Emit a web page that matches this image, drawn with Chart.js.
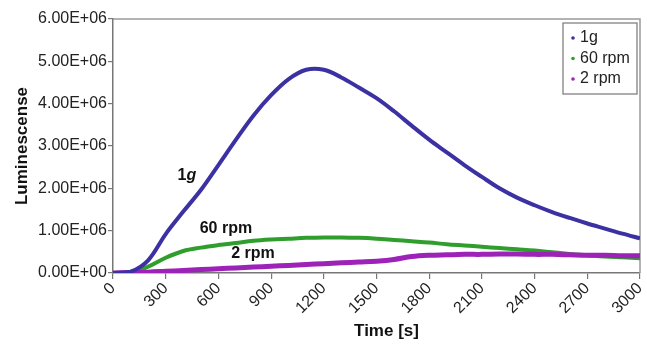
<!DOCTYPE html>
<html>
<head>
<meta charset="utf-8">
<script src="https://cdn.jsdelivr.net/npm/chart.js@4.4.1/dist/chart.umd.min.js"></script>
<style>
  html, body { margin: 0; padding: 0; background: #fff; }
  #wrap { width: 647px; height: 345px; }
</style>
</head>
<body>
<div id="wrap"><canvas id="grafico" width="647" height="345"></canvas></div>
<script>
// tempo (s), passo de 100 s
const tempos = [0, 100, 200, 300, 400, 500, 600, 700, 800, 900, 1000, 1100, 1200, 1300, 1400, 1500,
  1600, 1700, 1800, 1900, 2000, 2100, 2200, 2300, 2400, 2500, 2600, 2700, 2800, 2900, 3000];

// luminescencia em unidades de 1E+06
const serie1g = [0, 0.03, 0.3, 0.92, 1.45, 1.96, 2.55, 3.15, 3.72, 4.2, 4.58, 4.8, 4.8, 4.62, 4.38, 4.13,
  3.82, 3.48, 3.15, 2.85, 2.55, 2.27, 2.0, 1.78, 1.6, 1.44, 1.3, 1.17, 1.05, 0.93, 0.82];
const serie60rpm = [0, 0.01, 0.15, 0.36, 0.52, 0.6, 0.66, 0.71, 0.76, 0.79, 0.81, 0.83, 0.84, 0.84, 0.83, 0.81,
  0.78, 0.75, 0.72, 0.68, 0.65, 0.62, 0.59, 0.56, 0.53, 0.49, 0.45, 0.42, 0.39, 0.37, 0.35];
const serie2rpm = [0, 0.01, 0.02, 0.04, 0.06, 0.08, 0.1, 0.12, 0.14, 0.16, 0.18, 0.2, 0.22, 0.24, 0.26, 0.28,
  0.32, 0.39, 0.42, 0.43, 0.44, 0.44, 0.45, 0.45, 0.44, 0.44, 0.43, 0.42, 0.42, 0.41, 0.41];

const rotulos = ['1g', '60 rpm', '2 rpm'];
const cores = ['#3b31a3', '#2f9e2c', '#9d22b8'];
const espessuras = [4, 4, 5];
const ticksX = [0, 300, 600, 900, 1200, 1500, 1800, 2100, 2400, 2700, 3000];

// rotulos dentro do grafico [texto, t, valor]
const anotacoes = [
  ['1g', 421, 2.31e6],
  ['60 rpm', 643, 1.06e6],
  ['2 rpm', 797, 0.45e6]
];

const FONTE = "'Liberation Sans', Arial, sans-serif";

function pontos(serie) {
  return tempos.map((t, i) => ({ x: t, y: serie[i] * 1e6 }));
}

function formatarExp(v) {
  const [m, e] = Number(v).toExponential(2).split('e');
  const sinal = e[0] === '-' ? '-' : '+';
  const num = e.replace(/[+-]/, '').padStart(2, '0');
  return m + 'E' + sinal + num;
}

const pluginMoldura = {
  id: 'moldura',
  beforeDatasetsDraw(chart) {
    const { ctx, chartArea: a } = chart;
    ctx.save();
    ctx.strokeStyle = '#9a9a9a';
    ctx.lineWidth = 1.5;
    ctx.beginPath();
    ctx.moveTo(a.left, a.top);
    ctx.lineTo(a.right, a.top);
    ctx.lineTo(a.right, a.bottom);
    ctx.stroke();
    ctx.restore();
  },
  afterDatasetsDraw(chart) {
    const { ctx, scales } = chart;
    const a = chart.chartArea;
    ctx.save();
    ctx.fillStyle = '#111';
    ctx.textBaseline = 'middle';
    ctx.textAlign = 'center';
    anotacoes.forEach(([txt, t, v]) => {
      const x = scales.x.getPixelForValue(t);
      const y = scales.y.getPixelForValue(v);
      if (txt === '1g') {
        ctx.font = 'bold 16px ' + FONTE;
        const w1 = ctx.measureText('1').width;
        ctx.font = 'italic bold 16px ' + FONTE;
        const w2 = ctx.measureText('g').width;
        const x0 = x - (w1 + w2) / 2;
        ctx.textAlign = 'left';
        ctx.font = 'bold 16px ' + FONTE;
        ctx.fillText('1', x0, y);
        ctx.font = 'italic bold 16px ' + FONTE;
        ctx.fillText('g', x0 + w1, y);
        ctx.textAlign = 'center';
      } else {
        ctx.font = 'bold 16px ' + FONTE;
        ctx.fillText(txt, x, y);
      }
    });

    // titulo do eixo x (levemente deslocado para a direita, como no original)
    ctx.font = 'bold 17px ' + FONTE;
    ctx.fillText('Time [s]', (a.left + a.right) / 2 + 10, 331);

    // legenda
    const bx = a.right - 77, by = a.top + 4, bw = 74, bh = 71;
    ctx.fillStyle = '#fff';
    ctx.fillRect(bx, by, bw, bh);
    ctx.strokeStyle = '#777';
    ctx.lineWidth = 1.2;
    ctx.strokeRect(bx, by, bw, bh);
    ctx.font = '16px ' + FONTE;
    ctx.textAlign = 'left';
    rotulos.forEach((r, i) => {
      const yy = by + 15 + i * 20.5;
      ctx.fillStyle = cores[i];
      ctx.beginPath();
      ctx.arc(bx + 10, yy, 1.8, 0, Math.PI * 2);
      ctx.fill();
      ctx.fillStyle = '#222';
      ctx.fillText(r, bx + 17, yy);
    });
    ctx.restore();
  }
};

const series = [serie1g, serie60rpm, serie2rpm];
const ordens = [0, 2, 1];

new Chart(document.getElementById('grafico'), {
  type: 'line',
  data: {
    datasets: series.map((s, i) => ({
      label: rotulos[i],
      data: pontos(s),
      borderColor: cores[i],
      backgroundColor: cores[i],
      borderWidth: espessuras[i],
      pointRadius: 0,
      tension: 0.35,
      order: ordens[i]
    }))
  },
  options: {
    responsive: false,
    animation: false,
    layout: { padding: { left: 0, right: 7, top: 19, bottom: 0 } },
    plugins: { legend: { display: false }, tooltip: { enabled: false } },
    scales: {
      x: {
        type: 'linear',
        min: 0,
        max: 3000,
        afterBuildTicks(scale) { scale.ticks = ticksX.map(v => ({ value: v })); },
        afterFit(scale) {
          scale.height = 72;
          scale.paddingLeft = 0;
          scale.paddingRight = 0;
        },
        grid: { drawOnChartArea: false, tickLength: 6, color: '#777', lineWidth: 1.2 },
        border: { color: '#777', width: 1.5 },
        ticks: {
          autoSkip: false,
          maxRotation: 45,
          minRotation: 45,
          padding: 0,
          color: '#222',
          font: { family: FONTE, size: 16 },
          callback: v => String(v)
        },
        title: { display: false }
      },
      y: {
        min: 0,
        max: 6e6,
        afterFit(scale) { scale.width = 113; },
        grid: { drawOnChartArea: false, tickLength: 5, color: '#777', lineWidth: 1.2 },
        border: { color: '#777', width: 1.5 },
        ticks: {
          stepSize: 1e6,
          padding: 1,
          color: '#222',
          font: { family: FONTE, size: 16 },
          callback: v => formatarExp(v)
        },
        title: {
          display: true,
          text: 'Luminescense',
          color: '#111',
          font: { family: FONTE, size: 17, weight: 'bold' },
          padding: { top: 12, bottom: 0 }
        }
      }
    }
  },
  plugins: [pluginMoldura]
});
</script>
</body>
</html>
